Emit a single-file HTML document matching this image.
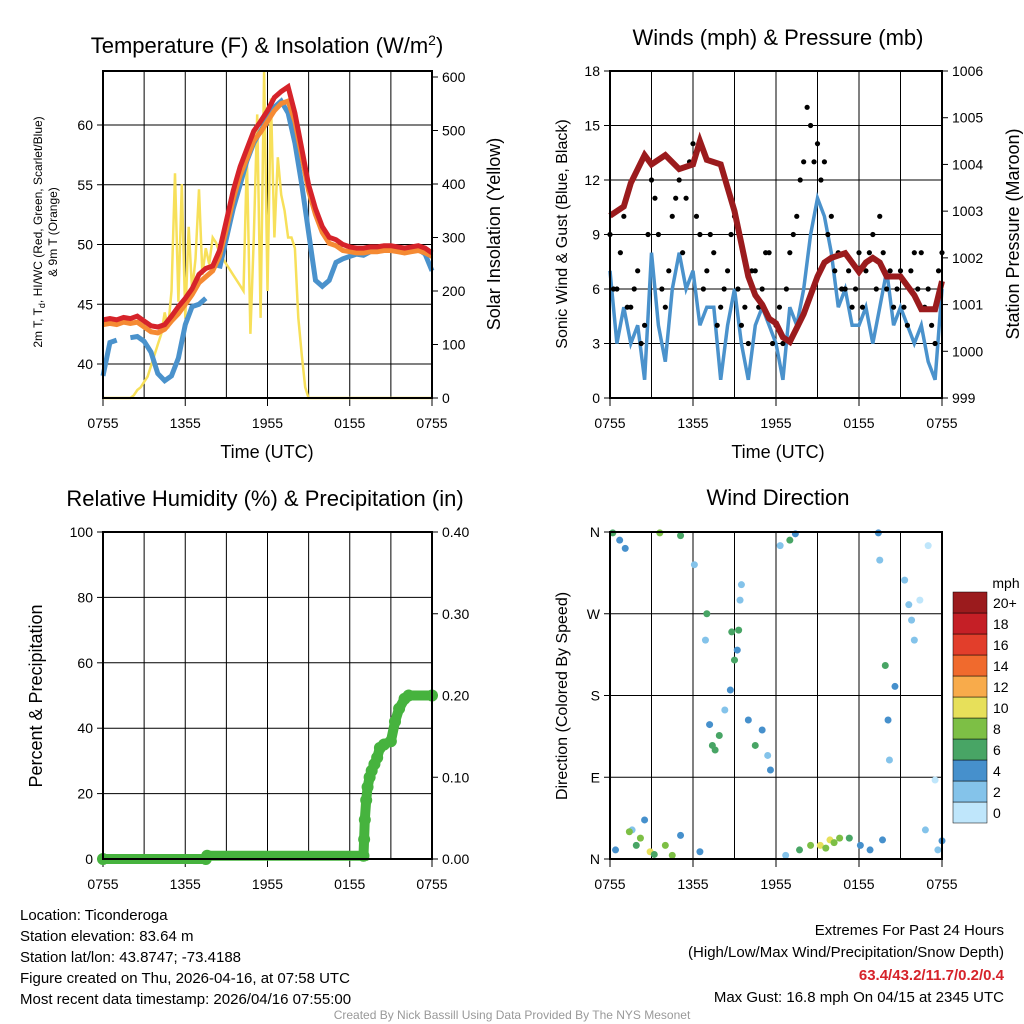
<!DOCTYPE html>
<html><head><meta charset="utf-8"><style>
body{margin:0;background:#fff}
svg{display:block;font-family:"Liberation Sans",sans-serif}
</style></head><body>
<svg id="c" width="1024" height="1024" xmlns="http://www.w3.org/2000/svg"></svg>
<script>
// ---------- data ----------
const xTickLabels=["0755","1355","1955","0155","0755"];
const tempHours=[0,0.5,1,1.5,2,2.5,3,3.5,4,4.5,5,5.5,6,6.5,7,7.5,8,8.5,9,9.5,10,10.5,11,11.5,12,12.5,13,13.5,14,14.5,15,15.5,16,16.5,17,17.5,18,18.5,19,19.5,20,20.5,21,21.5,22,22.5,23,23.5,24];
const tempRed=[43.7,43.8,43.7,43.9,43.8,44,43.6,43.2,43.1,43.3,44,44.8,45.5,46.3,47.5,48,48.2,49.5,52,54.5,56.5,58,59.5,60.3,61.2,62.3,62.8,63.2,61,58,55,53,51.5,50.6,50.4,50,49.8,49.7,49.7,49.8,49.8,49.9,49.9,49.8,49.7,49.8,49.9,49.7,49.3];
const tempOrange=[43.3,43.4,43.3,43.5,43.4,43.5,43.1,42.7,42.6,42.9,43.6,44.2,45,45.8,46.8,47.3,47.8,49,51.3,53.8,55.8,57.2,58.7,59.4,60.3,61.2,61.8,62,60.3,57.4,54.5,52.5,51,50.1,49.9,49.5,49.4,49.3,49.3,49.4,49.4,49.5,49.5,49.4,49.3,49.4,49.5,49.3,49];
const tempBlue=[39,41.8,42,null,42.2,42.3,41.9,41,39.2,38.6,39,40.5,43.3,44.8,45,45.5,null,48,50.5,53,55,57,58.5,59.5,60.5,61.5,62,61,58.5,55,51,47,46.5,47,48.5,48.8,49,49.2,49.1,49.4,49.5,49.6,49.5,49.6,49.5,49.7,49.6,49.2,47.8];
const insolHours=[0,2,2.25,2.5,2.75,3,3.25,3.5,3.75,4,4.25,4.5,4.75,5,5.25,5.5,5.75,6,6.25,6.5,6.75,7,7.25,7.5,7.75,8,8.25,8.5,8.75,9,9.25,9.5,9.75,10,10.25,10.5,10.75,11,11.25,11.5,11.75,12,12.25,12.5,12.75,13,13.25,13.5,13.75,14,14.25,14.5,14.75,15,24];
const insolVals=[0,0,5,15,20,30,40,60,80,100,120,160,130,200,420,180,400,150,320,200,260,390,230,280,250,300,290,270,260,250,240,230,220,210,200,450,120,300,530,150,610,200,560,300,450,380,350,300,300,280,150,80,20,0,0];
const windHours=tempHours;
const windSpeed=[7,3,5,3,4,1,8,4,2,6,8,6,7,4,5,5,1,4,6,3,1,4,5,4,3,1,5,4,6,9,11,10,8,5,6,4,4,5,3,5,7,4,5,4,3,4,2,1,6];
const gustA=[9,6,10,5,7,4,12,9,5,10,12,11,14,9,7,8,5,7,10,4,3,7,6,8,4,3,8,10,13,15,14,13,10,8,6,5,8,7,9,10,6,5,7,4,8,8,6,3,8];
const gustB=[6,8,5,6,3,9,11,6,7,11,8,13,10,6,9,4,6,9,6,5,7,5,8,3,5,6,9,12,16,13,12,9,7,6,7,6,5,8,6,8,7,6,5,7,6,5,4,7];
const presHours=[0,1,1.5,2.5,3,4,5,6,6.5,7,8,8.5,9,9.5,10,10.5,11,11.5,12,12.5,13,13.5,14,14.5,15,15.5,16,17,17.5,18,18.5,19,19.5,20,21,22,22.5,23,23.5,24];
const presVals=[1002.9,1003.1,1003.6,1004.2,1004.0,1004.2,1003.9,1004.0,1004.5,1004.1,1004.0,1003.5,1003.0,1002.3,1001.6,1001.2,1001.0,1000.7,1000.6,1000.3,1000.2,1000.5,1000.8,1001.2,1001.6,1001.9,1002.0,1002.1,1001.9,1001.7,1001.9,1002.0,1001.9,1001.6,1001.6,1001.2,1000.9,1000.9,1000.9,1001.5];
const precipHours=[0,7.5,7.6,19,19.05,19.1,19.2,19.3,19.45,19.6,19.8,20,20.2,20.5,21,21.3,21.6,22,22.3,24];
const precipIn=[0,0,0.004,0.004,0.024,0.048,0.072,0.088,0.1,0.108,0.116,0.124,0.136,0.14,0.144,0.168,0.184,0.196,0.2,0.2];
const dirHours=[0.2,0.7,1.1,0.4,1.6,1.9,2.2,2.5,2.9,3.6,5.1,4,4.5,5.1,6.5,6.1,6.9,7.2,7.4,7.6,7.9,8.3,8.7,9,9.3,9.4,9.5,10,10.5,11,11.4,11.6,12.3,13,13.4,12.7,13.7,14.5,15.2,15.9,16.6,17.3,18.1,18.8,19.4,19.5,19.9,20.1,20.2,19.7,21.3,21.8,22,22.4,23,23.5,23.7,22.8,8.8,9.2,1.4,3.2,15.6,16.2,20.6,21.6,7.0,24];
const dirDeg=[359,351,342,10,32,15,23,43,8,359,356,15,4,26,8,324,241,148,125,120,136,164,186,219,252,285,302,153,125,142,114,98,345,351,358,4,10,15,15,21,23,23,15,10,359,329,213,153,109,21,307,263,241,285,345,87,10,32,250,230,30,5,12,18,190,280,270,20];
const dirSpeed=[6,4,4,4,3,6,8,5,10,8,7,9,8,4,4,3,2,4,6,6,7,3,5,6,7,3,2,4,6,4,3,4,3,6,5,3,6,8,10,10,8,6,4,4,4,3,7,4,3,4,2,3,3,0,1,1,2,3,6,5,8,6,9,9,4,3,6,4];
const cbarLabels=["0","2","4","6","8","10","12","14","16","18","20+"];
const cbarColors=["#bfe6fb","#84c3ea","#4690cc","#48a565","#7dbf45","#e7e05a","#f8ab4b","#f06a2d","#e23e2b","#c51f26","#9b1b1d"];

// ---------- helpers ----------
const S=document.getElementById('c');const NS="http://www.w3.org/2000/svg";
function el(t,a,p){const e=document.createElementNS(NS,t);for(const k in a)e.setAttribute(k,a[k]);(p||S).appendChild(e);return e;}
function txt(x,y,s,o){o=o||{};const e=el('text',{x:x,y:y,'font-size':o.fs||15,'text-anchor':o.a||'middle',fill:o.fill||'#000','font-weight':o.fw||'normal'});if(o.rot)e.setAttribute('transform','rotate(-90 '+x+' '+y+')');e.textContent=s;return e;}
function lin(d0,d1,r0,r1){return v=>r0+(v-d0)/(d1-d0)*(r1-r0);}
function path(xs,ys,sx,sy,attrs){let d="",pen=false;for(let i=0;i<xs.length;i++){if(ys[i]==null){pen=false;continue;}d+=(pen?"L":"M")+sx(xs[i]).toFixed(1)+" "+sy(ys[i]).toFixed(1);pen=true;}attrs.d=d;attrs.fill='none';return el('path',attrs);}
function frame(x0,y0,x1,y1,name){
  const g=el('g',{});
  const sx=lin(0,24,x0,x1);
  for(let h=3;h<24;h+=3){const l=el('line',{x1:sx(h),x2:sx(h),y1:y0,y2:y1,stroke:'#000','stroke-width':1},g);}
  for(let i=0;i<5;i++){const x=sx(i*6);el('line',{x1:x,x2:x,y1:y1,y2:y1+8,stroke:'#000'},g);const t=txt(x,y1+30,xTickLabels[i],{fs:14});}
  return {g:g,sx:sx};
}
function border(x0,y0,x1,y1){el('rect',{x:x0,y:y0,width:x1-x0,height:y1-y0,fill:'none',stroke:'#000','stroke-width':2});}
function yTicks(vals,labels,sy,x,side,g){vals.forEach((v,i)=>{const y=sy(v);el('line',{x1:x,x2:x+(side<0?-6:6),y1:y,y2:y,stroke:'#000'},g);const t=txt(x+(side<0?-10:10),y+5,labels[i],{fs:14,a:side<0?'end':'start'});});}
function hGrid(vals,sy,x0,x1,g){vals.forEach(v=>{const l=el('line',{x1:x0,x2:x1,y1:sy(v),y2:sy(v),stroke:'#000'},g);});}

// ---------- panel 1 temperature ----------
{const X0=103,Y0=71,X1=432,Y1=398;const f=frame(X0,Y0,X1,Y1,'temperature-panel');const sx=f.sx;
 const sy=lin(40,60,364,125),sr=lin(0,600,Y1,77);
 hGrid([40,45,50,55,60],sy,X0,X1,f.g);
 const t=txt(267,53,"Temperature (F) & Insolation (W/m",{fs:22});const sp=el('tspan',{dy:-8,'font-size':14},t);sp.textContent="2";const sp2=el('tspan',{dy:8},t);sp2.textContent=")";
 
 let p=path(insolHours,insolVals,sx,sr,{stroke:'#f7e05a','stroke-width':2.5});
 p=path(tempHours,tempBlue,sx,sy,{stroke:'#4a92cc','stroke-width':5});
 p=path(tempHours,tempOrange,sx,sy,{stroke:'#f58a33','stroke-width':5});
 p=path(tempHours,tempRed,sx,sy,{stroke:'#d6232a','stroke-width':5});
 border(X0,Y0,X1,Y1);
 yTicks([40,45,50,55,60],["40","45","50","55","60"],sy,X0,-1,f.g);
 yTicks([0,100,200,300,400,500,600],["0","100","200","300","400","500","600"],sr,X1,1,f.g);
 let a=txt(267,458,"Time (UTC)",{fs:18});
 a=el('text',{x:42,y:232,'font-size':12,'text-anchor':'middle',transform:'rotate(-90 42 232)'});a.textContent="2m T, T";const sb=el('tspan',{'font-size':9,dy:3},a);sb.textContent="d";const s3=el('tspan',{dy:-3},a);s3.textContent=", HI/WC (Red, Green, Scarlet/Blue)";
 
 a=txt(57,232,"& 9m T (Orange)",{fs:12,rot:1});
 a=txt(500,234,"Solar Insolation (Yellow)",{fs:18,rot:1});
}
// ---------- panel 2 winds ----------
{const X0=610,Y0=71,X1=942,Y1=398;const f=frame(X0,Y0,X1,Y1,'winds-panel');const sx=f.sx;
 const sy=lin(0,18,Y1,Y0),sp=lin(999,1006,Y1,Y0);
 hGrid([3,6,9,12,15],sy,X0,X1,f.g);
 let t=txt(778,45,"Winds (mph) & Pressure (mb)",{fs:22});
 let p=path(windHours,windSpeed,sx,sy,{stroke:'#4a92cc','stroke-width':3.5});
 windHours.forEach((h,i)=>{const c=el('circle',{cx:sx(h),cy:sy(gustA[i]),r:2.6,fill:'#000'});});
 gustB.forEach((v,i)=>{const c=el('circle',{cx:sx(windHours[i]+0.25),cy:sy(v),r:2.6,fill:'#000'});});
 p=path(presHours,presVals,sx,sp,{stroke:'#9b1b1d','stroke-width':6});
 border(X0,Y0,X1,Y1);
 yTicks([0,3,6,9,12,15,18],["0","3","6","9","12","15","18"],sy,X0,-1,f.g);
 yTicks([999,1000,1001,1002,1003,1004,1005,1006],["999","1000","1001","1002","1003","1004","1005","1006"],sp,X1,1,f.g);
 let a=txt(778,458,"Time (UTC)",{fs:18});
 a=txt(567,234,"Sonic Wind & Gust (Blue, Black)",{fs:16,rot:1});
 a=txt(1019,234,"Station Pressure (Maroon)",{fs:18,rot:1});
}
// ---------- panel 3 RH ----------
{const X0=103,Y0=532,X1=432,Y1=859;const f=frame(X0,Y0,X1,Y1,'humidity-panel');const sx=f.sx;
 const sy=lin(0,100,Y1,Y0),sr=lin(0,0.4,Y1,Y0);
 hGrid([20,40,60,80],sy,X0,X1,f.g);
 let t=txt(265,506,"Relative Humidity (%) & Precipitation (in)",{fs:22});
 let p=path(precipHours,precipIn,sx,sr,{stroke:'#46b33e','stroke-width':10,'stroke-linecap':'round'});
 precipHours.forEach((h,i)=>{const c=el('circle',{cx:sx(h),cy:sr(precipIn[i]),r:6,fill:'#46b33e'});});
 border(X0,Y0,X1,Y1);
 yTicks([0,20,40,60,80,100],["0","20","40","60","80","100"],sy,X0,-1,f.g);
 yTicks([0,0.1,0.2,0.3,0.4],["0.00","0.10","0.20","0.30","0.40"],sr,X1,1,f.g);
 let a=txt(42,696,"Percent & Precipitation",{fs:18,rot:1});
}
// ---------- panel 4 wind direction ----------
{const X0=610,Y0=532,X1=942,Y1=859;const f=frame(X0,Y0,X1,Y1,'wind-direction-panel');const sx=f.sx;
 const sy=lin(0,360,Y1,Y0);
 hGrid([90,180,270],sy,X0,X1,f.g);
 let t=txt(778,505,"Wind Direction",{fs:22});
 dirHours.forEach((h,i)=>{const b=Math.min(10,Math.floor(dirSpeed[i]/2));const c=el('circle',{cx:sx(h),cy:sy(dirDeg[i]),r:3.5,fill:cbarColors[b]});});
 border(X0,Y0,X1,Y1);
 yTicks([0,90,180,270,360],["N","E","S","W","N"],sy,X0,-1,f.g);
 let a=txt(567,696,"Direction (Colored By Speed)",{fs:16,rot:1});
 const cg=el('g',{});
 cbarColors.forEach((c,i)=>{const y=802-i*21;el('rect',{x:953,y:y,width:34,height:21,fill:c,stroke:'#000','stroke-width':0.5},cg);const l=txt(993,y+16,cbarLabels[i],{fs:14,a:'start'});});
 a=txt(1006,588,"mph",{fs:14});
}
// ---------- footer text ----------
const info=["Location: Ticonderoga","Station elevation: 83.64 m","Station lat/lon: 43.8747; -73.4188","Figure created on Thu, 2026-04-16, at 07:58 UTC","Most recent data timestamp: 2026/04/16 07:55:00"];
info.forEach((s,i)=>{const t=txt(20,920+i*21,s,{fs:15,a:'start'});});
let e=txt(1004,935,"Extremes For Past 24 Hours",{fs:15,a:'end'});
e=txt(1004,957,"(High/Low/Max Wind/Precipitation/Snow Depth)",{fs:15,a:'end'});
e=txt(1004,980,"63.4/43.2/11.7/0.2/0.4",{fs:15,a:'end',fill:'#d6232a',fw:'bold'});
e=txt(1004,1002,"Max Gust: 16.8 mph On 04/15 at 2345 UTC",{fs:15,a:'end'});
e=txt(512,1019,"Created By Nick Bassill Using Data Provided By The NYS Mesonet",{fs:12,fill:'#999'});
</script>
</body></html>
